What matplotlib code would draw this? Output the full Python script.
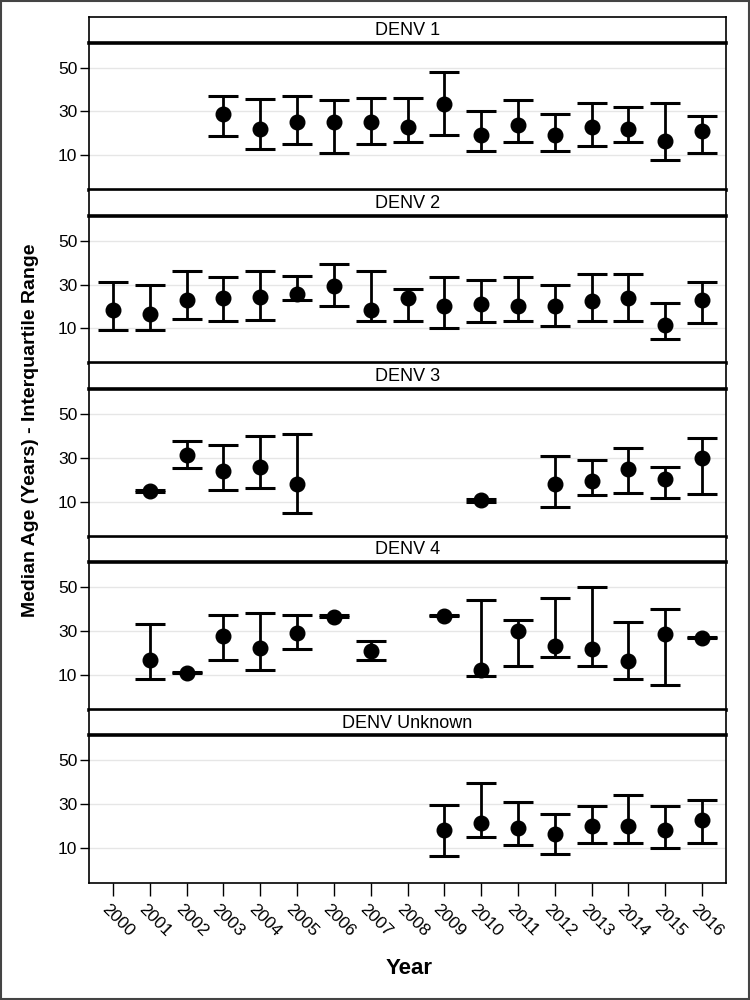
"""Median age with interquartile range by year, one panel per DENV serotype."""

import matplotlib
matplotlib.use("Agg")
import matplotlib.pyplot as plt
import matplotlib.transforms as mtransforms
import numpy as np
from matplotlib.patches import Rectangle

FONT = ["Liberation Sans", "DejaVu Sans"]

years = [str(y) for y in range(2000, 2017)]
panels = ["DENV 1", "DENV 2", "DENV 3", "DENV 4", "DENV Unknown"]

# one entry per year 2000..2016, None where no data
denv1_median = [None, None, None, 28.8, 22, 25, 25, 25, 22.7, 33.3, 19.1, 24, 19.1, 23, 22, 16.7, 21]
denv1_q1 = [None, None, None, 18.9, 13, 15.2, 10.9, 15.2, 16, 19, 12.1, 16, 12.1, 14.2, 16, 7.9, 10.9]
denv1_q3 = [None, None, None, 37, 35.5, 37, 35.2, 36, 36, 48, 30.2, 35.2, 29, 34, 31.8, 34, 28]

denv2_median = [18.3, 16.8, 22.8, 23.9, 24.4, 25.7, 29.6, 18.3, 23.9, 20.3, 21.3, 20.3, 20.3, 22.4, 23.9, 11.5, 23.1]
denv2_q1 = [9.1, 9.1, 14.1, 13.2, 13.8, 23, 20.3, 13.2, 13.2, 10.3, 12.7, 13.2, 11.1, 13.2, 13.2, 5.3, 12.6]
denv2_q3 = [31, 30, 36, 33.3, 36.3, 34, 39.5, 36, 28.1, 33.3, 31.9, 33.3, 30, 34.9, 34.9, 21.5, 31]

denv3_median = [None, 15, 31.1, 23.9, 25.9, 18, None, None, None, None, 10.5, None, 18, 19.5, 25, 20.1, 29.8]
denv3_q1 = [None, 14.4, 25.4, 15.1, 16.2, 5, None, None, None, None, 10, None, 7.3, 13, 14.1, 11.7, 13.5]
denv3_q3 = [None, 15.4, 37.5, 36, 39.8, 41.1, None, None, None, None, 11, None, 31, 29, 34.6, 25.7, 38.9]

denv4_median = [None, 16.9, 10.8, 27.6, 22.2, 29.1, 36.4, 21, None, 37, 12.4, 29.8, 23, 21.9, 16.1, 28.8, 27]
denv4_q1 = [None, 8, 10.6, 16.9, 12.1, 21.9, 36.4, 16.9, None, 36.8, 9.4, 14, 18.1, 14, 8, 5.4, 26.6]
denv4_q3 = [None, 33.2, 11.3, 37.2, 38.1, 37.2, 37.2, 25.3, None, 37.4, 44.2, 35, 45.3, 50.2, 34, 40, 27.1]

unk_median = [None] * 9 + [18.1, 21.6, 19, 16.5, 20, 20, 18.1, 22.6]
unk_q1 = [None] * 9 + [6.3, 15.2, 11.5, 7.1, 12.4, 12.4, 10.2, 12.4]
unk_q3 = [None] * 9 + [29.6, 39.5, 31, 25.5, 29.2, 34.3, 29.3, 32]

panel_data = [
    (denv1_median, denv1_q1, denv1_q3),
    (denv2_median, denv2_q1, denv2_q3),
    (denv3_median, denv3_q1, denv3_q3),
    (denv4_median, denv4_q1, denv4_q3),
    (unk_median, unk_q1, unk_q3),
]

W, H = 750, 1000
fig = plt.figure(figsize=(7.5, 10), dpi=100)
fig.patches.append(Rectangle((0.001, 0.001), 0.998, 0.998, transform=fig.transFigure,
                             fill=False, edgecolor="#444444", linewidth=1.5))

left_px, right_px = 89, 726
top0, period, strip_h, plot_h = 17, 173.2, 25.5, 147.7
positions = np.arange(len(years))

for i, (name, (median, q1, q3)) in enumerate(zip(panels, panel_data)):
    strip_top = top0 + i * period
    plot_top = strip_top + strip_h
    strip_ax = fig.add_axes([left_px / W, 1 - plot_top / H, (right_px - left_px) / W, strip_h / H])
    strip_ax.set_xticks([])
    strip_ax.set_yticks([])
    for spine in strip_ax.spines.values():
        spine.set_linewidth(1.2)
    strip_ax.text(0.5, 0.48, name, ha="center", va="center", fontsize=13, family=FONT,
                  transform=strip_ax.transAxes)

    ax = fig.add_axes([left_px / W, 1 - (plot_top + plot_h) / H, (right_px - left_px) / W, plot_h / H])
    idx = [k for k, m in enumerate(median) if m is not None]
    med = np.array([median[k] for k in idx])
    lo = np.array([q1[k] for k in idx])
    hi = np.array([q3[k] for k in idx])
    ax.errorbar(positions[idx], med, yerr=[med - lo, hi - med], fmt="o", color="black",
                markersize=10.5, elinewidth=2, capsize=11, capthick=2.2, zorder=3)

    ax.set_xlim(-0.65, 16.65)
    ax.set_ylim(-6, 61.5)
    ax.set_yticks([10, 30, 50])
    ax.yaxis.grid(True, color="#e6e6e6", linewidth=1)
    ax.set_axisbelow(True)
    ax.tick_params(axis="y", length=6.5, width=1, labelsize=12.5, pad=2)
    for lab in ax.get_yticklabels():
        lab.set_family(FONT)
    ax.spines["top"].set_linewidth(2.6)
    ax.spines["left"].set_linewidth(1.2)
    ax.spines["right"].set_linewidth(1.2)
    if i < len(panels) - 1:
        ax.spines["bottom"].set_linewidth(2.6)
        ax.set_xticks([])
    else:
        ax.spines["bottom"].set_linewidth(1.2)
        ax.set_xticks(positions)
        ax.set_xticklabels(years, rotation=-45, ha="center", va="top", fontsize=12.5, family=FONT)
        ax.tick_params(axis="x", length=9, width=1, pad=4)
        offset = mtransforms.ScaledTranslation(5 / 100, 0, fig.dpi_scale_trans)
        for lab in ax.get_xticklabels():
            lab.set_transform(lab.get_transform() + offset)

fig.text(31 / W, 1 - 430 / H, "Median Age (Years) - Interquartile Range", rotation=90,
         ha="center", va="center", fontsize=14, fontweight="bold", family=FONT)
fig.text(409 / W, 1 - 968 / H, "Year", ha="center", va="center", fontsize=16,
         fontweight="bold", family=FONT)

fig.savefig("out.png", dpi=100)
